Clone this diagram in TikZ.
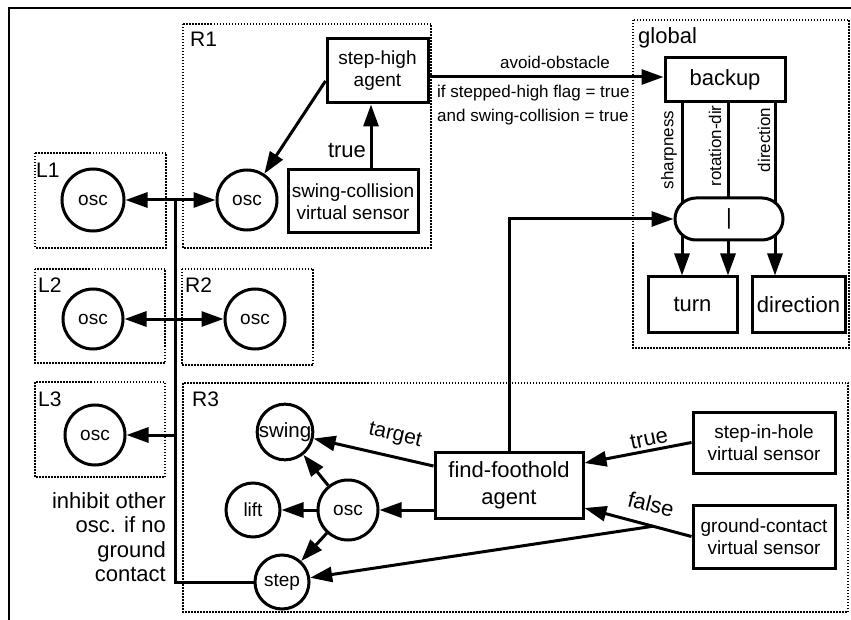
\documentclass[tikz,border=0pt]{standalone}
\usepackage{fontspec}
\setmainfont{Liberation Sans}
\usetikzlibrary{arrows.meta,calc,backgrounds}
\newcommand\fsS{\fontsize{17}{24}\selectfont}
\newcommand\fsM{\fontsize{19}{22}\selectfont}
\newcommand\fsL{\fontsize{22}{27}\selectfont}
\begin{document}
\begin{tikzpicture}[x=1pt,y=-1pt,
  box/.style={draw,line width=3pt,align=center,inner sep=0pt,font=\fsM},
  circ/.style={circle,draw,line width=3pt,inner sep=0pt,font=\fsM},
  region/.style={draw,line width=1.8pt,dash pattern=on 1.5pt off 1.5pt},
  lbl/.style={anchor=north west,inner sep=0pt,font=\fontsize{21}{24}\selectfont},
  arr/.style={line width=3pt,-{Triangle[length=22pt,width=15pt]}},
  darr/.style={line width=3pt,{Triangle[length=22pt,width=15pt]}-{Triangle[length=22pt,width=15pt]}},
  ln/.style={line width=3pt}]
\useasboundingbox (0,0) rectangle (851,620);
% outer frame
\draw[line width=2.4pt] (9,620) -- (9,8) -- (851,8);
% regions
\draw[region] (183,24) rectangle (431,248);
\draw[region] (35,153) rectangle (166,248);
\draw[region] (35,269) rectangle (165,363);
\draw[region] (182,269) rectangle (313,365);
\draw[region] (35,382) rectangle (165,477);
\draw[region] (183,383) rectangle (848,612);
\draw[region] (633,20) rectangle (849,348);
\node[lbl] (lR1) at (190,32) {R1};
\node[lbl] (lL1) at (36,163) {L1};
\node[lbl] (lL2) at (38,278) {L2};
\node[lbl] (lR2) at (185,278) {R2};
\node[lbl] (lL3) at (38,392) {L3};
\node[lbl] (lR3) at (192,392) {R3};
\node[lbl,font=\fontsize{22}{24}\selectfont] (lglob) at (638,27) {global};
% nodes
\node[box,minimum width=101pt,minimum height=64pt] (stephigh) at (377.5,71) {step-high\\agent};
\node[box,minimum width=130pt,minimum height=63pt] (swcoll) at (353,201.5) {swing-collision\\virtual sensor};
\node[circ,minimum size=60pt] (oscR1) at (247,200) {osc};
\node[circ,minimum size=62pt] (oscL1) at (93,200) {osc};
\node[circ,minimum size=60pt] (oscL2) at (93,319) {osc};
\node[circ,minimum size=60pt] (oscR2) at (255,319) {osc};
\node[circ,minimum size=60pt] (oscL3) at (95,435) {osc};
\node[circ,minimum size=54pt,font=\fontsize{20.5}{22}\selectfont] (swing) at (285,432) {swing};
\node[circ,minimum size=54pt] (lift) at (253,510) {lift};
\node[circ,minimum size=60pt] (oscR3) at (348,510) {osc};
\node[circ,minimum size=54pt] (stepc) at (282,582) {step};
\node[box,font=\fsL,minimum width=148pt,minimum height=66pt] (ffoot) at (509,485) {find-foothold\\agent};
\node[box,minimum width=142pt,minimum height=61pt] (sih) at (764,442.5) {step-in-hole\\virtual sensor};
\node[box,minimum width=142pt,minimum height=63pt] (gc) at (764,536.5) {ground-contact\\virtual sensor};
\node[box,font=\fsL,minimum width=120pt,minimum height=44pt] (backup) at (725,80) {backup};
\node[box,font=\fsL,minimum width=89pt,minimum height=55pt] (turn) at (692.5,304.5) {turn};
\node[box,font=\fsL,minimum width=93pt,minimum height=55pt] (dir) at (798.5,304.5) {direction};
\node[box,font=\fsL,fill=white,rounded corners=21pt,minimum width=108pt,minimum height=42pt] (pill) at (729,219) {|};
% coordinates
\coordinate (xa) at (371,0);
\coordinate (ya) at (0,77);
\coordinate (xs) at (682,0);
\coordinate (xr) at (728,0);
\coordinate (xd) at (775,0);
\coordinate (j1) at (175,200);
\coordinate (j3) at (175,435);
\coordinate (j4) at (175,582);
% R1 connectors
\draw[arr] ($(stephigh.west)+(0,10)$) -- (oscR1);
\draw[arr] (swcoll.north -| xa) -- (stephigh.south -| xa);
\node[font=\fontsize{22}{24}\selectfont] (ltrue1) at (347,150) {true};
\draw[arr] (stephigh.east |- ya) -- (backup.west |- ya);
\node[font=\fsS] (lavoid) at (555,62) {avoid-obstacle};
\node[font=\fsS,anchor=west,inner sep=0pt] (lif1) at (437,93) {if stepped-high flag = true};
\node[font=\fsS,anchor=west,inner sep=0pt] (lif2) at (437,117) {and swing-collision = true};
% L-R links
\draw[darr] (oscL1) -- (oscR1);
\draw[darr] (oscL2) -- (oscR2);
\draw[ln] (j1) -- (j4) -- (stepc);
\draw[arr] (j3) -- (oscL3);
\node[font=\fontsize{22}{24.5}\selectfont,align=right,anchor=east,inner sep=0pt] (linh) at (166,537) {inhibit other\\osc. if no\\ground\\contact};
% R3 connectors
\draw[arr] (oscR3) -- (swing);
\draw[arr] (oscR3) -- (lift);
\draw[arr] (oscR3) -- (stepc);
\draw[arr] ($(ffoot.west)+(0,-19)$) -- (swing);
\node[font=\fontsize{21}{24}\selectfont,rotate=-13,inner sep=0pt] (ltarget) at (395,436) {target};
\draw[arr] (ffoot.west |- oscR3.center) -- (oscR3);
\draw[arr] (sih.west) -- ($(ffoot.east)+(0,-22)$);
\node[font=\fontsize{22}{24}\selectfont,rotate=12,inner sep=0pt] (ltrue2) at (649,439) {true};
\draw[arr] (gc.west) -- coordinate[pos=0.36] (fb) ($(ffoot.east)+(0,23)$);
\node[font=\fontsize{22}{24}\selectfont,rotate=-14,inner sep=0pt] (lfalse) at (651,504) {false};
\draw[arr] (fb) -- (stepc);
\draw[arr] (ffoot.north) |- (pill.west);
% global connectors
\begin{scope}[on background layer]
\draw[ln] (backup.south -| xs) -- (pill.center -| xs);
\draw[ln] (backup.south -| xr) -- (pill.center -| xr);
\draw[ln] (backup.south -| xd) -- (pill.center -| xd);
\draw[arr] (pill.center -| xs) -- (turn.north -| xs);
\draw[arr] (pill.center -| xr) -- (turn.north -| xr);
\draw[arr] (pill.center -| xd) -- (dir.north -| xd);
\end{scope}
\node[font=\fsS,rotate=90] (lsharp) at (669,150) {sharpness};
\node[font=\fsS,rotate=90] (lrot) at (715,146) {rotation-dir};
\node[font=\fsS,rotate=90] (ldir) at (764,140) {direction};
\end{tikzpicture}
\end{document}
